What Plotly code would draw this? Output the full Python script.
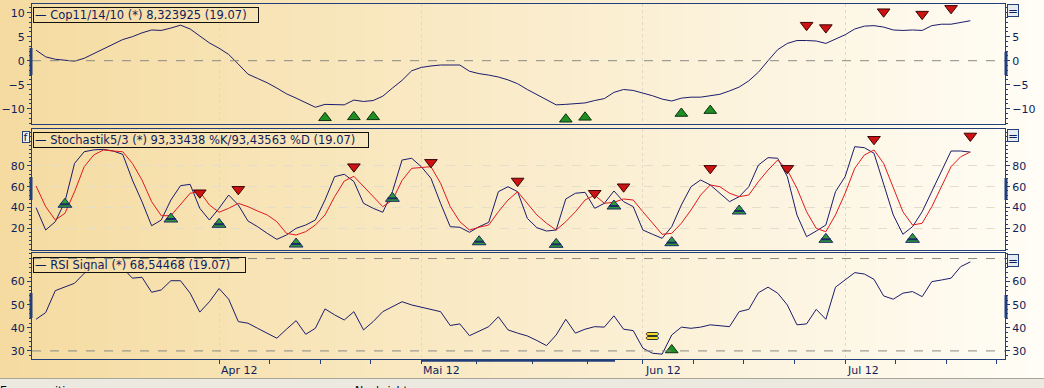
import plotly.graph_objects as go

# ---------------- data ----------------
# trading-day index (06.03.2012 ... 19.07.2012)
days = list(range(98))

coppock = [2.2, 0.8, 0.3, 0.1, -0.1, 0.5, 1.5, 2.4, 3.5, 4.4,
           5.0, 5.8, 6.4, 6.3, 6.8, 7.4, 6.6, 5.2, 3.7, 2.6,
           1.3, -0.7, -2.8, -3.7, -4.6, -5.7, -6.9, -7.8, -8.8, -9.7,
           -9.1, -9.1, -9.2, -8.2, -8.5, -8.3, -7.4, -5.7, -4.1, -2.1,
           -1.4, -1.1, -0.9, -0.9, -0.9, -2.2, -2.7, -3.0, -3.4, -4.0,
           -4.8, -6.0, -7.1, -8.2, -9.2, -9.1, -9.0, -8.8, -8.3, -7.9,
           -6.6, -6.0, -6.2, -6.7, -7.3, -8.0, -8.4, -7.8, -7.6, -7.6,
           -7.35, -7.0, -6.3, -5.5, -4.2, -2.4, 0.0, 2.3, 3.6, 4.2,
           4.2, 4.1, 3.6, 4.5, 5.4, 6.6, 7.2, 7.3, 7.0, 6.4,
           6.3, 6.4, 6.3, 7.3, 7.6, 7.6, 7.9, 8.323925]
cop_buy_idx = [30, 33, 35, 55, 57, 67, 70]
cop_buy_val = [-11.9, -11.7, -11.7, -12.2, -11.8, -11.0, -10.4]
cop_sell_idx = [80, 82, 88, 92, 95]
cop_sell_val = [7.4, 6.9, 10.2, 9.7, 10.9]

stoch_k = [39.8, 18.3, 26.3, 45.6, 82.5, 93.7, 95.5, 96.0, 94.4, 91.2,
           66.5, 45.6, 22.4, 27.9, 47.2, 61.0, 62.3, 39.2, 27.9, 39.2,
           52.0, 42.4, 27.0, 21.5, 15.1, 9.3, 13.5, 19.9, 23.1, 27.9,
           47.2, 69.7, 72.0, 65.0, 44.0, 39.2, 35.4, 55.2, 85.7, 87.4,
           79.3, 68.1, 44.0, 21.5, 20.9, 16.1, 21.5, 25.7, 55.2, 60.0,
           55.2, 29.6, 20.5, 17.3, 18.3, 48.2, 53.7, 54.6, 39.2, 44.0,
           55.9, 45.6, 40.8, 18.3, 14.2, 10.3, 21.5, 42.4, 60.0, 66.5,
           61.7, 53.7, 45.6, 50.4, 60.0, 80.9, 88.0, 87.4, 69.7, 32.8,
           11.9, 17.3, 23.1, 55.2, 69.7, 98.6, 97.6, 92.2, 63.3, 32.8,
           14.2, 21.5, 35.9, 55.2, 76.1, 94.4, 94.4, 93.33438]
stoch_d = [60.7, 40.8, 27.9, 34.4, 55.2, 79.3, 90.6, 95.4, 94.4, 93.7,
           82.5, 66.5, 45.6, 32.1, 32.1, 42.4, 53.7, 55.2, 42.4, 35.4,
           39.2, 44.0, 40.8, 36.6, 32.8, 26.3, 15.1, 13.5, 16.7, 23.1,
           32.8, 50.4, 65.5, 70.0, 60.0, 50.4, 40.8, 47.0, 66.0, 77.7,
           78.3, 79.3, 63.3, 40.8, 26.3, 18.3, 20.9, 23.1, 35.9, 47.2,
           55.2, 44.0, 32.8, 24.8, 18.3, 26.3, 35.9, 47.2, 52.0, 44.0,
           45.0, 48.2, 47.2, 35.9, 24.8, 14.2, 15.1, 24.8, 37.6, 52.0,
           61.7, 60.0, 53.7, 50.4, 52.0, 64.9, 76.1, 85.7, 76.1, 58.5,
           35.9, 19.9, 16.7, 32.8, 53.7, 77.7, 90.6, 95.4, 82.5, 60.0,
           35.9, 23.1, 24.8, 40.8, 60.0, 79.3, 88.9, 93.43563]
sto_sell_idx = [17, 21, 33, 41, 50, 58, 61, 70, 78, 87, 97]
sto_sell_val = [54.2, 57.5, 79.3, 83.5, 65.5, 53.7, 60.0, 77.7, 77.7, 105.7, 108.9]
sto_buy_idx = [3, 14, 19, 27, 37, 46, 54, 60, 66, 73, 82, 91]
sto_buy_val = [43.1, 28.9, 23.8, 4.8, 48.8, 7.0, 4.5, 41.4, 6.1, 36.6, 9.3, 9.3]

rsi = [43.7, 46.6, 56.1, 57.8, 59.3, 63.6, 66.5, 68.5, 68.0, 66.0,
       61.5, 61.9, 55.4, 56.4, 60.4, 60.4, 55.0, 46.8, 51.3, 57.0,
       52.4, 42.7, 42.0, 39.8, 37.7, 35.5, 39.4, 43.1, 37.2, 39.8,
       48.2, 45.6, 43.4, 47.0, 39.1, 42.7, 47.0, 49.2, 51.3, 49.9,
       48.9, 48.0, 47.0, 41.0, 41.7, 36.6, 38.4, 40.5, 44.8, 39.1,
       37.7, 36.5, 34.5, 32.3, 36.9, 43.7, 37.7, 39.4, 40.5, 40.3,
       45.2, 39.4, 38.8, 31.2, 29.0, 28.6, 36.9, 40.3, 39.8, 40.3,
       41.3, 41.0, 40.5, 47.0, 48.0, 55.2, 57.6, 55.0, 49.9, 41.3,
       41.7, 48.0, 43.7, 57.6, 60.7, 63.9, 63.3, 61.0, 53.8, 52.4,
       55.0, 55.7, 53.5, 60.0, 60.7, 61.5, 66.5, 68.54468]
rsi_eq_idx = [64]
rsi_eq_val = [35.9]
rsi_buy_idx = [66]
rsi_buy_val = [30.4]

month_idx = [19, 40, 63, 84]
month_labels = ["Apr 12", "Mai 12", "Jun 12", "Jul 12"]
quarter_idx = [24.25, 29.5, 34.75, 45.75, 51.5, 57.25, 68.25, 73.5, 78.75, 89.25, 94.5, 99.75]

cop_ticks = [-10, -5, 0, 5, 10]
cop_ticks_right = [-10, -5, 0, 5]
sto_ticks = [20, 40, 60, 80]
rsi_ticks = [30, 40, 50, 60]

legend_texts = ["— Cop11/14/10 (*) 8,323925 (19.07)",
                "— Stochastik5/3 (*) 93,33438 %K/93,43563 %D (19.07)",
                "— RSI Signal (*) 68,54468 (19.07)"]

# ---------------- layout helpers ----------------
W, H = 1044, 388
ML, MR = 32, 39
PW = W - ML - MR


def px_x(p):
    return (p - ML) / PW


def px_y(p):
    return (H - p) / H


BORDER = "#233f7a"
TXT = "#0f1d5c"
NAVY = "#1c1c6c"
RED = "#e0191e"
FONT = "DejaVu Sans"
XR = [-0.42, 100.6]

c_left = (245, 219, 160)
c_right = (255, 253, 246)


def grad(px):
    t = max(0.0, min(1.0, px / W))
    r, g, b = (round(c_left[i] + (c_right[i] - c_left[i]) * t) for i in range(3))
    return f"rgb({r},{g},{b})"


fig = go.Figure()

# Coppock panel
fig.add_trace(go.Scatter(x=days, y=coppock, mode="lines", line=dict(color=NAVY, width=1),
                         xaxis="x", yaxis="y"))
fig.add_trace(go.Scatter(x=cop_buy_idx, y=cop_buy_val, mode="markers", xaxis="x", yaxis="y",
                         cliponaxis=False,
                         marker=dict(symbol="triangle-up", size=11, color="#1f8f24",
                                     line=dict(color="#0c3010", width=1))))
fig.add_trace(go.Scatter(x=cop_sell_idx, y=cop_sell_val, mode="markers", xaxis="x", yaxis="y",
                         cliponaxis=False,
                         marker=dict(symbol="triangle-down", size=11, color="#cc1212",
                                     line=dict(color="#3a0505", width=1))))

# Stochastic panel
fig.add_trace(go.Scatter(x=days, y=stoch_k, mode="lines", line=dict(color=NAVY, width=1),
                         xaxis="x2", yaxis="y2"))
fig.add_trace(go.Scatter(x=days, y=stoch_d, mode="lines", line=dict(color=RED, width=1),
                         xaxis="x2", yaxis="y2"))
fig.add_trace(go.Scatter(x=sto_sell_idx, y=sto_sell_val, mode="markers", xaxis="x2", yaxis="y2",
                         cliponaxis=False,
                         marker=dict(symbol="triangle-down", size=11, color="#cc1212",
                                     line=dict(color="#3a0505", width=1))))
fig.add_trace(go.Scatter(x=sto_buy_idx, y=sto_buy_val, mode="markers", xaxis="x2", yaxis="y2",
                         cliponaxis=False,
                         marker=dict(symbol="triangle-up", size=12, color="#2f9a33",
                                     line=dict(color="#1a2a6a", width=1))))
fig.add_trace(go.Scatter(x=sto_buy_idx, y=sto_buy_val, mode="markers", xaxis="x2", yaxis="y2",
                         cliponaxis=False,
                         marker=dict(symbol="line-ew", size=7,
                                     line=dict(color="#1a2a6a", width=2))))

# RSI panel
fig.add_trace(go.Scatter(x=days, y=rsi, mode="lines", line=dict(color=NAVY, width=1),
                         xaxis="x3", yaxis="y3"))
fig.add_trace(go.Scatter(x=rsi_eq_idx, y=rsi_eq_val, mode="text", text=["<b>=</b>"],
                         xaxis="x3", yaxis="y3", cliponaxis=False,
                         textfont=dict(family=FONT, size=17, color="#f2dc2a",
                                       shadow="1px 0 #333, -1px 0 #333, 0 1px #333, 0 -1px #333")))
fig.add_trace(go.Scatter(x=rsi_buy_idx, y=rsi_buy_val, mode="markers", xaxis="x3", yaxis="y3",
                         cliponaxis=False,
                         marker=dict(symbol="triangle-up", size=11, color="#1f8f24",
                                     line=dict(color="#0c3010", width=1))))

# empty traces for right-side label axes
for ya, xa in (("y4", "x"), ("y5", "x2"), ("y6", "x3")):
    fig.add_trace(go.Scatter(x=[], y=[], xaxis=xa, yaxis=ya, mode="lines"))

dom_top = [px_y(124), px_y(4)]
dom_mid = [px_y(250), px_y(129)]
dom_bot = [px_y(359), px_y(253)]

r_top = [-13.19, 11.81]
r_mid = [-0.96, 115.6]
r_bot = [26.5, 72.4]

tickfont = dict(family=FONT, size=11, color=TXT)


def xax(anchor, bottom=False):
    d = dict(domain=[0, 1], anchor=anchor, range=XR, showline=True, mirror=True,
             linecolor=BORDER, linewidth=1, tickmode="array", tickvals=month_idx,
             showticklabels=False, showgrid=True, gridcolor="#e0d9c8", griddash="dot",
             gridwidth=1, zeroline=False, automargin=False, fixedrange=True)
    if bottom:
        d.update(ticks="outside", ticklen=4, tickcolor=BORDER, tickwidth=1,
                 minor=dict(tickmode="array", tickvals=quarter_idx, ticks="outside",
                            ticklen=4, tickcolor=BORDER, showgrid=False))
    else:
        d.update(ticks="")
    return d


def yax(domain, rng, tv, mdt, anchor, grid=False, right=False, over=None):
    d = dict(range=rng, tickmode="array", tickvals=tv, ticks="outside", ticklen=4,
             tickcolor=BORDER, tickwidth=1, tickfont=tickfont, zeroline=False,
             automargin=False, fixedrange=True, anchor=anchor,
             minor=dict(tickmode="linear", tick0=0, dtick=mdt, ticks="outside", ticklen=2,
                        tickcolor=BORDER, showgrid=False))
    if right:
        d.update(overlaying=over, side="right", showline=False, showgrid=False)
    else:
        d.update(domain=domain, showline=True, mirror=True, linecolor=BORDER, linewidth=1,
                 showgrid=grid, gridcolor="#e4ddcc", griddash="dash", gridwidth=1)
    return d


shapes = []
# background gradient
step = 6
for x0 in range(0, W, step):
    shapes.append(dict(type="rect", xref="paper", yref="paper", layer="below",
                       x0=px_x(x0), x1=px_x(x0 + step), y0=px_y(378), y1=px_y(0),
                       fillcolor=grad(x0 + step / 2), line=dict(width=0)))
# bottom status strip
shapes.append(dict(type="rect", xref="paper", yref="paper", layer="below",
                   x0=px_x(0), x1=px_x(W), y0=px_y(H), y1=px_y(378),
                   fillcolor="#eceae0", line=dict(width=0)))
shapes.append(dict(type="line", xref="paper", yref="paper", layer="above",
                   x0=px_x(0), x1=px_x(W), y0=px_y(378.5), y1=px_y(378.5),
                   line=dict(color="#a8a698", width=1)))
# cover behind the RSI legend box
for x0 in range(33, 246, step):
    shapes.append(dict(type="rect", xref="paper", yref="paper", layer="above",
                       x0=px_x(x0), x1=px_x(min(x0 + step, 246)), y0=px_y(272), y1=px_y(257),
                       fillcolor=grad(x0 + step / 2), line=dict(width=0)))
# dashed reference lines
for xr, yr, yv in (("x domain", "y", 0), ("x3 domain", "y3", 30), ("x3 domain", "y3", 70)):
    shapes.append(dict(type="line", xref=xr, yref=yr, x0=0, x1=1, y0=yv, y1=yv,
                       layer="above", line=dict(color="#8a8a84", width=1, dash="dash")))
# scrollbar thumbs on the axes
for (xa, ya0, ya1) in ((31, 48, 75), (1006, 52, 75), (31, 177, 200), (1006, 178, 200),
                       (31, 293, 318), (1006, 295, 318)):
    shapes.append(dict(type="line", xref="paper", yref="paper", layer="above",
                       x0=px_x(xa), x1=px_x(xa), y0=px_y(ya0), y1=px_y(ya1),
                       line=dict(color=BORDER, width=3)))
shapes.append(dict(type="line", xref="paper", yref="paper", layer="above",
                   x0=px_x(421), x1=px_x(615), y0=px_y(360.5), y1=px_y(360.5),
                   line=dict(color=BORDER, width=2.5)))

annotations = []
# legend boxes
for txt, top, right in zip(legend_texts, (7, 132, 257), (259, 369, 246)):
    annotations.append(dict(xref="paper", yref="paper", x=px_x(33), y=px_y(top),
                            xanchor="left", yanchor="top", text=txt, showarrow=False,
                            align="left", font=dict(family=FONT, size=11.5, color=TXT),
                            bordercolor="#101010", borderwidth=1, borderpad=1,
                            width=right - 33 - 4, height=12, bgcolor="rgba(0,0,0,0)"))
# "=" buttons and "f" button
for top in (4, 129, 254):
    annotations.append(dict(xref="paper", yref="paper", x=px_x(1007), y=px_y(top),
                            xanchor="left", yanchor="top", text="=", showarrow=False,
                            font=dict(family=FONT, size=12, color=TXT),
                            bordercolor=BORDER, borderwidth=1, borderpad=0,
                            width=10, height=11, bgcolor="#e8ebf0"))
annotations.append(dict(xref="paper", yref="paper", x=px_x(22), y=px_y(131),
                        xanchor="left", yanchor="top", text="f", showarrow=False,
                        font=dict(family=FONT, size=11, color=TXT),
                        bordercolor=BORDER, borderwidth=1, borderpad=0,
                        width=6, height=10, bgcolor="#eef0f2"))
# month labels
for mi, lab in zip(month_idx, month_labels):
    annotations.append(dict(xref="x3", yref="paper", x=mi, y=px_y(370.5),
                            xanchor="left", yanchor="middle", text=lab, showarrow=False,
                            font=dict(family=FONT, size=11, color=TXT)))
# status strip labels (cut by the window edge, as in the original screenshot)
for lab, xp in (("Eurcorposition:", -2), ("Nachrichten:", 353)):
    annotations.append(dict(xref="paper", yref="paper", x=px_x(xp), y=px_y(382),
                            xanchor="left", yanchor="top", text=lab, showarrow=False,
                            font=dict(family=FONT, size=11, color="#000000")))

fig.update_layout(
    width=W, height=H,
    margin=dict(l=ML, r=MR, t=0, b=0, pad=0),
    paper_bgcolor="#fbf3df", plot_bgcolor="rgba(0,0,0,0)",
    showlegend=False, hovermode=False,
    xaxis=xax("y"), xaxis2=xax("y2"), xaxis3=xax("y3", bottom=True),
    yaxis=yax(dom_top, r_top, cop_ticks, 1, "x"),
    yaxis2=yax(dom_mid, r_mid, sto_ticks, 4, "x2", grid=True),
    yaxis3=yax(dom_bot, r_bot, rsi_ticks, 2, "x3"),
    yaxis4=yax(None, r_top, cop_ticks_right, 1, "x", right=True, over="y"),
    yaxis5=yax(None, r_mid, sto_ticks, 4, "x2", right=True, over="y2"),
    yaxis6=yax(None, r_bot, rsi_ticks, 2, "x3", right=True, over="y3"),
    shapes=shapes, annotations=annotations,
)

fig.write_html("out.html", config=dict(displayModeBar=False),
               post_script="document.body.style.margin='0';document.body.style.overflow='hidden';")
